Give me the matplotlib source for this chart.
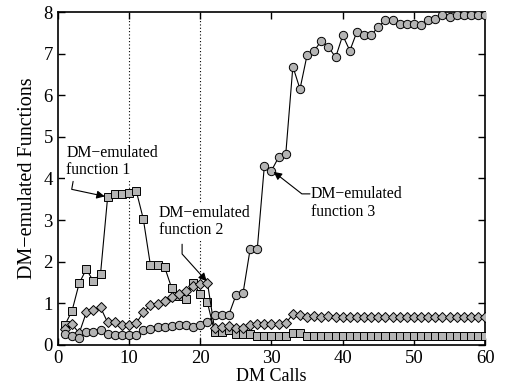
import numpy as np
import matplotlib
matplotlib.use('Agg')
import matplotlib.pyplot as plt

plt.rcParams['font.family'] = 'Liberation Serif'

# DM call index
calls = np.arange(1, 61)

# DM-emulated function 1 (squares)
func1 = [0.48, 0.82, 1.48, 1.82, 1.53, 1.71, 3.56, 3.62, 3.63, 3.65,
         3.71, 3.03, 1.92, 1.92, 1.87, 1.36, 1.18, 1.10, 1.50, 1.22,
         1.02, 0.32, 0.32, 0.35, 0.27, 0.27, 0.27, 0.22, 0.22, 0.22,
         0.22, 0.22, 0.28, 0.28, 0.22, 0.22, 0.22, 0.22, 0.22, 0.22,
         0.22, 0.22, 0.22, 0.22, 0.22, 0.22, 0.22, 0.22, 0.22, 0.22,
         0.22, 0.22, 0.22, 0.22, 0.22, 0.22, 0.22, 0.22, 0.22, 0.22]

# DM-emulated function 2 (diamonds)
func2 = [0.38, 0.50, 0.28, 0.78, 0.84, 0.90, 0.54, 0.54, 0.48, 0.48,
         0.52, 0.78, 0.96, 0.98, 1.06, 1.16, 1.23, 1.29, 1.42, 1.46,
         1.50, 0.40, 0.42, 0.45, 0.40, 0.40, 0.48, 0.50, 0.50, 0.50,
         0.50, 0.52, 0.74, 0.72, 0.68, 0.70, 0.68, 0.70, 0.68, 0.68,
         0.68, 0.68, 0.66, 0.66, 0.68, 0.68, 0.68, 0.68, 0.68, 0.68,
         0.68, 0.68, 0.68, 0.68, 0.68, 0.68, 0.68, 0.68, 0.68, 0.68]

# DM-emulated function 3 (circles)
func3 = [0.27, 0.22, 0.16, 0.30, 0.30, 0.36, 0.27, 0.25, 0.23, 0.23,
         0.25, 0.35, 0.38, 0.42, 0.44, 0.46, 0.48, 0.48, 0.44, 0.48,
         0.55, 0.72, 0.72, 0.72, 1.19, 1.24, 2.30, 2.30, 4.31, 4.19,
         4.51, 4.58, 6.69, 6.15, 6.97, 7.07, 7.31, 7.16, 6.91, 7.44,
         7.07, 7.53, 7.44, 7.44, 7.65, 7.80, 7.80, 7.71, 7.71, 7.71,
         7.69, 7.80, 7.83, 7.92, 7.88, 7.92, 7.92, 7.92, 7.92, 7.92]

gray = '#b4b4b4'

fig = plt.figure(figsize=(5.07, 3.88), dpi=100)
ax = fig.add_axes([0.114, 0.111, 0.843, 0.858])

# dotted markers at 10 and 20 calls
for xv in [10, 20]:
    ax.axvline(xv, color='k', linestyle=(0, (1, 2)), linewidth=0.8, zorder=1)

common = dict(color='k', linewidth=0.8, markerfacecolor=gray,
              markeredgecolor='k', markeredgewidth=0.7, zorder=3)
ax.plot(calls, func1, marker='s', markersize=6, **common)
ax.plot(calls, func2, marker='D', markersize=5.3, **common)
ax.plot(calls, func3, marker='o', markersize=6, **common)

box = dict(facecolor='white', edgecolor='none', pad=1)
fs = 11.3
ax.text(1.2, 4.4, 'DM\u2212emulated\nfunction 1', fontsize=fs, va='center',
        ha='left', linespacing=1.1, bbox=box, zorder=2)
ax.text(14.2, 2.97, 'DM\u2212emulated\nfunction 2', fontsize=fs, va='center',
        ha='left', linespacing=1.1, bbox=box, zorder=2)
ax.text(35.5, 3.41, 'DM\u2212emulated\nfunction 3', fontsize=fs, va='center',
        ha='left', linespacing=1.1, bbox=box, zorder=2)

arrow = dict(arrowstyle='-|>', color='k', linewidth=0.8, mutation_scale=12,
             shrinkA=0, shrinkB=0)
ax.annotate('', xy=(6.6, 3.57), xytext=(2.15, 3.93),
            arrowprops=dict(connectionstyle='angle,angleA=-100,angleB=-12,rad=0', **arrow))
ax.annotate('', xy=(20.9, 1.53), xytext=(17.45, 2.42),
            arrowprops=dict(connectionstyle='angle,angleA=-90,angleB=-48,rad=0', **arrow))
ax.annotate('', xy=(30.3, 4.16), xytext=(35.4, 3.63),
            arrowprops=dict(connectionstyle='angle,angleA=180,angleB=-38,rad=0', **arrow))

ax.set_xlim(0, 60)
ax.set_ylim(0, 8)
ax.set_xticks(range(0, 61, 10))
ax.set_yticks(range(0, 9))
ax.tick_params(direction='in', length=5, width=1, labelsize=13.5,
               top=True, right=True, labeltop=False, labelright=False)
for s in ax.spines.values():
    s.set_linewidth(1.2)

ax.set_xlabel('DM Calls', fontsize=13, labelpad=1)
ax.set_ylabel('DM\u2212emulated Functions', fontsize=14.5, labelpad=5)

fig.savefig('out.png', dpi=100)
